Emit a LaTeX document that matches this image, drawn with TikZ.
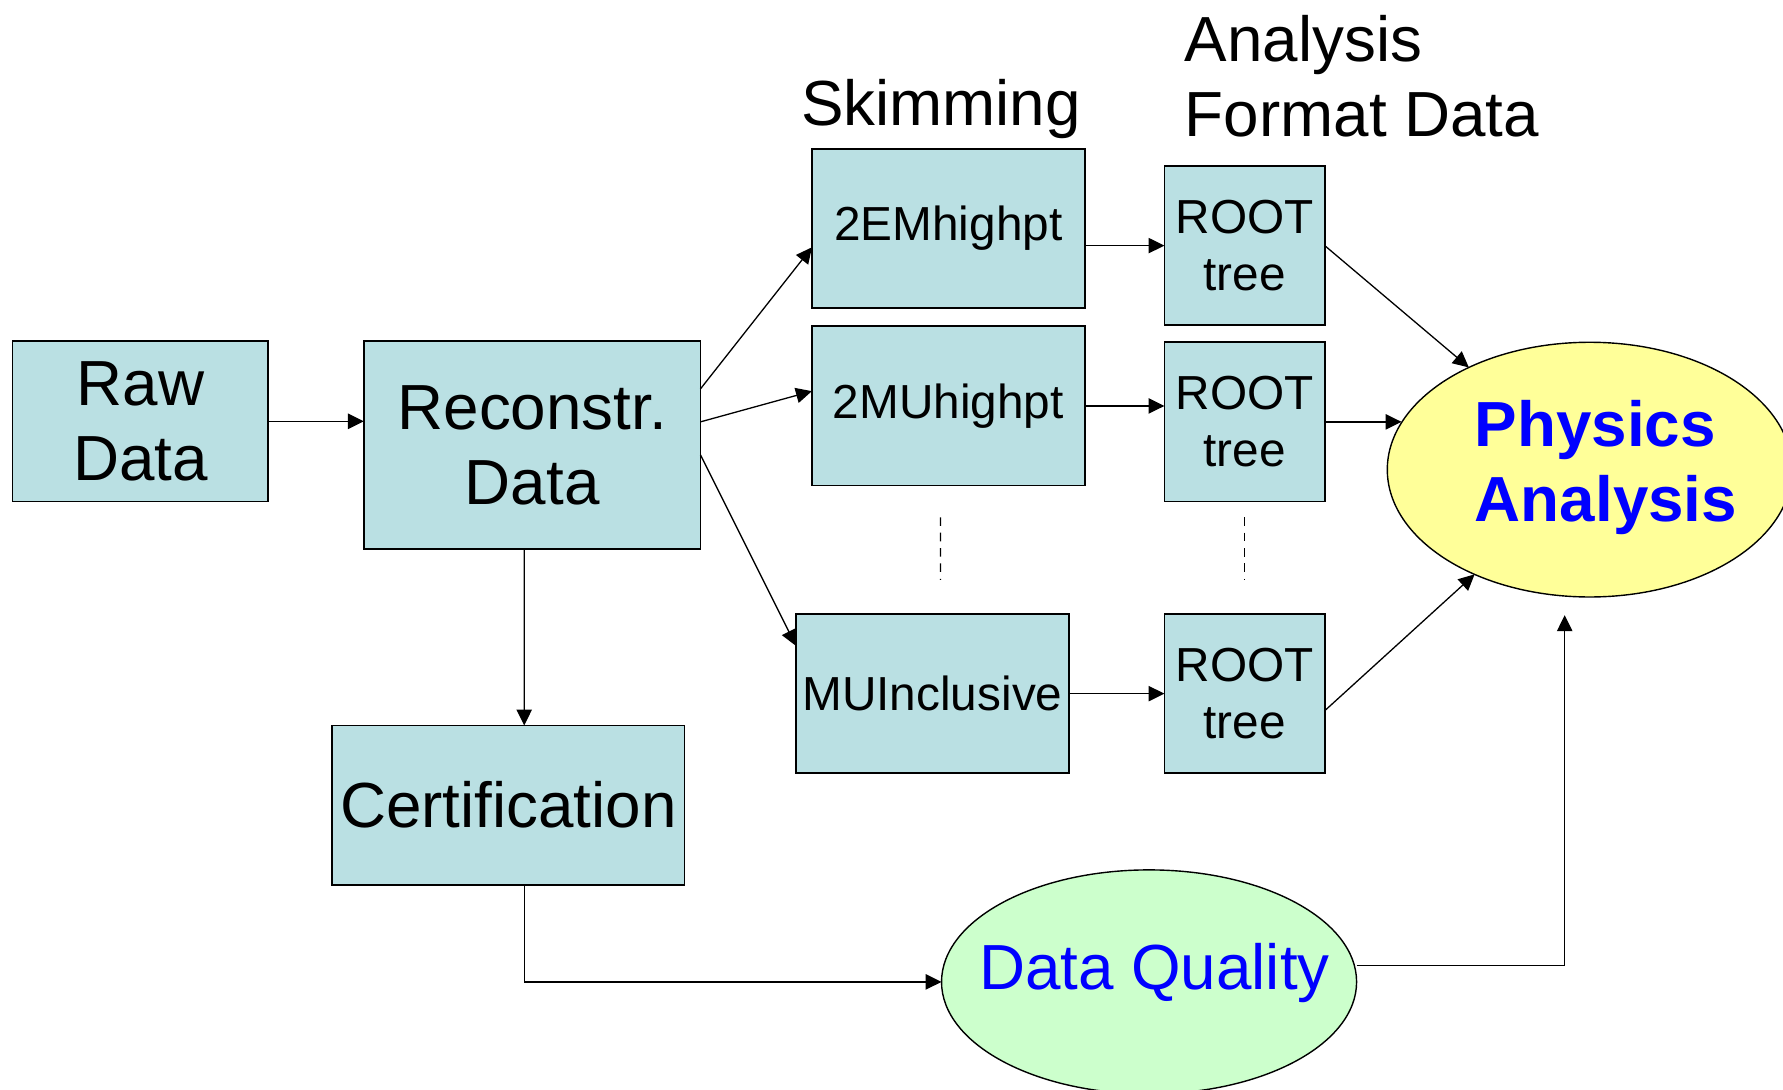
\documentclass[tikz,border=0pt]{standalone}
\usepackage{fontspec}
\setmainfont{Liberation Sans}
\usetikzlibrary{calc,shapes.geometric,arrows.meta}
\definecolor{sbox}{HTML}{BAE0E3}
\definecolor{syellow}{HTML}{FFFF99}
\definecolor{sgreen}{HTML}{CCFFCC}
\definecolor{sblue}{HTML}{0000FF}
\newcommand{\bigtxt}{\fontsize{31.9}{37.8}\selectfont}
\newcommand{\smalltxt}{\fontsize{23.9}{28.5}\selectfont}

\begin{document}
\begin{tikzpicture}[
    BOX/.style={rectangle, draw=black, fill=sbox, line width=0.9pt, inner sep=0pt, outer sep=0pt, align=center},
    SKM/.style={BOX, minimum width=4.8cm, minimum height=2.8cm, font=\smalltxt},
    RT/.style={BOX, minimum width=2.82cm, minimum height=2.8cm, font=\smalltxt},
    ELL/.style={ellipse, draw=black, line width=0.7pt, inner sep=0pt, outer sep=0pt},
    ARR/.style={line width=0.65pt, -{Triangle[length=0.28cm, width=0.27cm]}},
    TXT/.style={inner sep=0pt, outer sep=0pt}
    ]
        \useasboundingbox (0,0) rectangle (31.36,19.16);
        \node[BOX, minimum width=4.5cm, minimum height=2.82cm, font=\bigtxt] (RD) at (2.47,11.75) {Raw\\Data};
        \node[BOX, minimum width=5.92cm, minimum height=3.66cm, font=\bigtxt, anchor=north west] (RC) at ($(RD.north east)+(1.68,0)$) {Reconstr.\\Data};
        \draw[ARR] (RD.east) -- (RD.east -| RC.west);
        % skims
        \node[SKM, anchor=north west] (S1) at ($(RC.north east)+(1.96,3.38)$) {2EMhighpt};
        \node[SKM, anchor=north west] (S2) at ($(S1.south west)+(0,-0.32)$) {2MUhighpt};
        \node[SKM, anchor=north west] (S3) at ($(S2.south west)+(-0.28,-2.26)$) {MUInclusive};
        \draw[ARR] ($(RC.east)+(0,0.99)$) -- ($(S1.west)+(0,-0.33)$);
        \draw[ARR] ($(RC.east)+(0,0.41)$) -- ($(S2.west)+(0,0.26)$);
        \draw[ARR] ($(RC.east)+(0,-0.17)$) -- ($(S3.west)+(0,0.84)$);
        % ROOT trees
        \node[RT, anchor=north west] (T1) at ($(S1.north east)+(1.40,-0.30)$) {ROOT\\tree};
        \node[RT, anchor=north west] (T2) at ($(T1.south west)+(0,-0.30)$) {ROOT\\tree};
        \node[RT, anchor=north west] (T3) at ($(T2.south west)+(0,-1.98)$) {ROOT\\tree};
        \draw[ARR] (S1.east |- T1.west) -- (T1.west);
        \draw[ARR] (S2.east) -- (S2.east -| T2.west);
        \draw[ARR] (S3.east) -- (T3.west);
        \draw[line width=0.65pt, dash pattern=on 0.15cm off 0.12cm] ($(S2.south)+(-0.14,-0.56)$) -- ($(S3.north)+(0.14,0.6)$);
        \draw[line width=0.65pt, dash pattern=on 0.15cm off 0.12cm] ($(T2.south)+(0,-0.28)$) -- ($(T3.north)+(0,0.6)$);
        % headings
        \node[TXT, anchor=base, font=\bigtxt] (SKL) at ($(S1.north)+(-0.13,0.42)$) {Skimming};
        \node[TXT, anchor=base west, font=\bigtxt] (AFL) at ($(T1.north west)+(0.36,1.84)$) {\parbox[t]{7cm}{Analysis\\Format Data}};
        % analysis
        \node[ELL, fill=syellow, minimum width=7.12cm, minimum height=4.48cm, anchor=west] (PA) at ($(T2.east)+(1.10,-0.84)$) {};
        \node[TXT, anchor=base west, font=\bigtxt\bfseries, text=sblue] (PAT) at ($(PA.center)+(-2.02,0.41)$) {\parbox[t]{5cm}{Physics\\Analysis}};
        \draw[ARR] (T1.east) -- (PA);
        \draw[ARR] (T2.east) -- (T2.east -| PA.166);
        \draw[ARR] ($(T3.east)+(0,-0.30)$) -- (PA);
        % certification and data quality
        \node[BOX, minimum width=6.2cm, minimum height=2.8cm, font=\bigtxt, anchor=north west] (CE) at ($(RC.south west)+(-0.56,-3.10)$) {Certification};
        \draw[ARR] ($(RC.south)+(-0.14,0)$) -- ($(CE.north)+(0.28,0)$);
        \node[ELL, fill=sgreen, minimum width=7.3cm, minimum height=3.94cm, anchor=west] (DQ) at ($(CE.south)+(7.62,-1.71)$) {};
        \node[TXT, anchor=base west, font=\bigtxt, text=sblue] (DQT) at ($(DQ.center)+(-2.99,-0.13)$) {Data Quality};
        \draw[ARR] ($(CE.south)+(0.28,0)$) |- (DQ.west);
        \draw[ARR, shorten >=0.32cm] ($(DQ.east)+(0,0.29)$) -| ($(PA.south)+(-0.44,0)$);
    \end{tikzpicture}
\end{document}
